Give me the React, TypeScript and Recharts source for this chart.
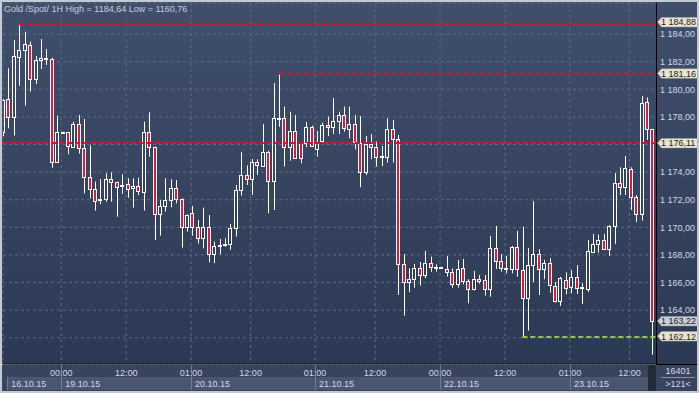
import React from 'react';
import { ComposedChart, Bar, XAxis, YAxis, CartesianGrid, ReferenceLine } from 'recharts';

// ---- Data (hourly candles, index 0 = 16.10.15 late session) ----
const opens = [
  1176.88, 1179.27, 1178.02, 1182.36, 1182.82, 1183.18, 1180.72, 1182.12, 1182.19, 1182.19,
  1174.71, 1176.83, 1176.88, 1175.84, 1177.46, 1175.72, 1173.62, 1172.75, 1171.98, 1172.03,
  1173.48, 1173.26, 1173.0, 1173.12, 1172.83, 1172.97, 1172.58, 1176.88, 1175.8, 1170.99,
  1171.57, 1171.96, 1172.83, 1172.03, 1170.05, 1171.02, 1170.05, 1169.21, 1170.03, 1168.05,
  1168.7, 1168.75, 1168.77, 1169.93, 1172.71, 1173.77, 1173.48, 1174.71, 1174.47, 1175.43,
  1173.33, 1177.88, 1177.9, 1175.84, 1176.98, 1176.16, 1176.09, 1177.24, 1175.65, 1176.28,
  1177.39, 1177.24, 1177.68, 1178.14, 1177.15, 1177.46, 1176.13, 1174.03, 1176.01, 1175.8,
  1175.1, 1175.07, 1177.1, 1176.38, 1167.35, 1166.02, 1166.26, 1167.03, 1166.53, 1167.4,
  1167.13, 1167.1, 1166.96, 1166.74, 1165.87, 1167.03, 1166.09, 1165.56, 1166.24, 1166.16,
  1165.51, 1168.48, 1167.59, 1167.0, 1166.96, 1168.55, 1166.89, 1164.86, 1167.25, 1168.07,
  1167.01, 1167.4, 1165.75, 1164.69, 1166.16, 1165.71, 1166.38, 1165.61, 1165.56, 1168.24,
  1168.77, 1169.08, 1168.46, 1170.1, 1173.19, 1172.95, 1174.2, 1172.17, 1170.94, 1179.05,
  1177.1,
];
const highs = [
  1179.3, 1181.52, 1183.57, 1184.64, 1184.17, 1183.45, 1182.41, 1183.64, 1182.91, 1182.29,
  1178.09, 1176.92, 1176.92, 1177.65, 1178.14, 1177.85, 1175.97, 1173.31, 1173.5, 1173.91,
  1173.99, 1173.31, 1173.84, 1173.55, 1173.55, 1173.6, 1177.65, 1178.33, 1175.85, 1171.98,
  1173.55, 1173.48, 1173.43, 1172.1, 1170.94, 1171.55, 1170.53, 1171.43, 1170.89, 1168.97,
  1169.16, 1169.21, 1170.24, 1173.07, 1175.43, 1174.49, 1174.95, 1174.93, 1177.49, 1175.55,
  1180.45, 1181.15, 1178.74, 1178.38, 1178.14, 1176.18, 1177.63, 1177.37, 1176.98, 1177.58,
  1178.02, 1179.37, 1178.38, 1178.74, 1178.74, 1178.14, 1178.06, 1176.62, 1176.76, 1176.21,
  1175.89, 1177.9, 1177.78, 1176.69, 1168.07, 1167.03, 1167.35, 1167.49, 1168.29, 1167.88,
  1167.32, 1167.15, 1167.93, 1167.03, 1167.64, 1167.71, 1166.24, 1166.84, 1166.55, 1166.55,
  1169.37, 1170.1, 1168.07, 1167.93, 1168.65, 1169.74, 1170.05, 1168.51, 1171.91, 1168.41,
  1167.64, 1167.76, 1166.04, 1166.41, 1166.74, 1166.91, 1167.27, 1165.97, 1169.08, 1169.52,
  1169.47, 1169.52, 1170.17, 1173.94, 1174.35, 1175.17, 1174.35, 1172.34, 1179.51, 1179.41,
  1177.12,
];
const lows = [
  1176.6, 1177.17, 1176.64, 1180.26, 1178.81, 1179.83, 1180.38, 1181.47, 1181.76, 1174.32,
  1174.7, 1176.8, 1175.29, 1175.77, 1175.34, 1172.46, 1172.1, 1171.21, 1171.67, 1171.86,
  1171.86, 1170.77, 1172.42, 1172.15, 1171.43, 1172.34, 1171.21, 1175.12, 1169.08, 1169.4,
  1171.14, 1171.45, 1171.74, 1168.53, 1169.69, 1169.4, 1168.82, 1168.48, 1167.47, 1167.4,
  1168.05, 1168.6, 1168.36, 1169.33, 1172.3, 1173.07, 1172.34, 1173.79, 1174.4, 1171.02,
  1171.26, 1177.29, 1174.4, 1174.83, 1174.95, 1174.64, 1175.8, 1175.84, 1175.12, 1176.16,
  1176.62, 1176.76, 1176.76, 1176.93, 1176.45, 1175.65, 1172.9, 1173.79, 1174.93, 1174.4,
  1174.44, 1174.69, 1174.69, 1165.1, 1163.61, 1165.3, 1165.63, 1165.78, 1166.31, 1166.79,
  1166.79, 1167.08, 1166.43, 1165.63, 1165.63, 1165.87, 1164.5, 1165.42, 1165.92, 1165.05,
  1164.98, 1166.98, 1166.79, 1166.67, 1166.67, 1166.43, 1162.13, 1162.52, 1166.04, 1165.1,
  1166.24, 1165.27, 1164.55, 1164.31, 1165.15, 1165.22, 1165.17, 1164.45, 1165.32, 1168.17,
  1168.17, 1168.36, 1167.93, 1168.8, 1172.34, 1172.34, 1171.26, 1170.39, 1170.48, 1176.33,
  1160.76,
];
const closes = [
  1179.22, 1178.02, 1182.38, 1182.84, 1183.25, 1180.72, 1182.09, 1182.26, 1182.24, 1174.71,
  1176.88, 1176.88, 1175.89, 1177.49, 1175.72, 1173.62, 1172.75, 1171.93, 1172.05, 1173.48,
  1173.26, 1172.95, 1173.05, 1172.78, 1172.97, 1172.63, 1176.88, 1175.8, 1170.99, 1171.57,
  1171.96, 1172.83, 1172.03, 1170.05, 1170.89, 1170.05, 1169.21, 1170.03, 1168.05, 1168.65,
  1168.75, 1168.79, 1169.93, 1172.71, 1173.77, 1173.48, 1174.73, 1174.49, 1175.43, 1173.33,
  1177.9, 1177.92, 1175.84, 1176.98, 1175.0, 1175.0, 1177.24, 1175.92, 1176.21, 1177.39,
  1177.24, 1177.68, 1178.14, 1177.17, 1177.46, 1176.16, 1174.03, 1176.01, 1175.8, 1175.12,
  1175.14, 1177.1, 1176.38, 1167.35, 1166.02, 1166.26, 1167.03, 1166.53, 1167.4, 1167.13,
  1167.16, 1167.12, 1166.74, 1165.87, 1166.96, 1166.09, 1165.56, 1166.24, 1166.09, 1165.51,
  1168.48, 1167.59, 1167.03, 1167.03, 1168.55, 1166.96, 1164.86, 1167.25, 1168.07, 1166.96,
  1167.4, 1165.8, 1164.69, 1166.33, 1165.63, 1166.38, 1165.58, 1165.65, 1168.26, 1168.77,
  1169.08, 1168.46, 1170.1, 1173.19, 1172.9, 1174.27, 1172.17, 1170.94, 1178.98, 1177.1,
  1163.22,
];

const priceTicks = [1164, 1166, 1168, 1170, 1172, 1174, 1178, 1180, 1182, 1184];
const gridPrices = [1162, 1164, 1166, 1168, 1170, 1172, 1174, 1176, 1178, 1180, 1182, 1184];
const tagPrices = [1184.88, 1181.16, 1176.11, 1163.22, 1162.12];
const tagTexts = ['1 184,88', '1 181,16', '1 176,11', '1 163,22', '1 162,12'];
const tagFills = ['#e8e4cf', '#e8e4cf', '#e8e4cf', '#c9ced6', '#e8e4cf'];

const levelPrices = [1184.72, 1181.12, 1176.11, 1162.06];
const levelStarts = [3, 51, 0.04, 96];
const levelColors = ['#e0121e', '#e0121e', '#e0121e', '#93c83e'];

const timeTicks = [10.8, 22.8, 34.8, 45.8, 57.7, 68.8, 80.8, 92.8, 104.8, 115.8];
const timeLabels = ['00:00', '12:00', '01:00', '12:00', '01:00', '12:00', '00:00', '12:00', '01:00', '12:00'];
const dateTicks = [0.83, 10.8, 34.8, 57.7, 80.8, 104.8];
const dateLabels = ['16.10.15', '19.10.15', '20.10.15', '21.10.15', '22.10.15', '23.10.15'];

const data = opens.map((o, i) => ({ i, o, h: highs[i], l: lows[i], c: closes[i] }));

const X_DOMAIN: [number, number] = [0.04, 120.8];
const Y_DOMAIN: [number, number] = [1160.1, 1186.25];

const RED = '#e0183c';
const TXT = '#d3d9e4';
const FONT = '"Liberation Sans", Arial, sans-serif';

const fmt = (v: number) => {
  const s = v.toFixed(2).replace('.', ',');
  const [ip, dp] = s.split(',');
  const withSp = ip.replace(/\B(?=(\d{3})+(?!\d))/g, ' ');
  return withSp + ',' + dp;
};

function Candle(p: any) {
  const { x, y, width, height, payload } = p;
  if (x == null || payload == null || height == null) return null;
  const top = Math.min(y, y + height);
  const span = Math.abs(height);
  const k = span / (payload.h - payload.l);
  const py = (v: number) => top + (payload.h - v) * k;
  const cx = Math.round(x + width / 2);
  const bTop = Math.round(py(Math.max(payload.o, payload.c)));
  let bBot = Math.round(py(Math.min(payload.o, payload.c)));
  if (bBot - bTop < 1) bBot = bTop + 1;
  const bull = payload.c >= payload.o;
  const wx = cx + 0.5;
  return (
    <g>
      <line x1={wx} x2={wx} y1={top} y2={bTop} stroke="#ffffff" strokeWidth={1} />
      <line x1={wx} x2={wx} y1={bBot + 1} y2={top + span} stroke="#ffffff" strokeWidth={1} />
      <rect x={cx - 1.5} y={bTop + 0.5} width={3} height={bBot - bTop} fill={bull ? 'none' : RED} stroke="#ffffff" strokeWidth={1} />
    </g>
  );
}

function XTick(p: any) {
  const { x, y, payload } = p;
  const v = payload.value;
  const ti = timeTicks.indexOf(v);
  const di = dateTicks.indexOf(v);
  const sx = Math.round(x) + 0.5;
  return (
    <g>
      {di >= 0 && <line x1={sx} x2={sx} y1={di === 0 ? y + 13 : y + 1} y2={y + 26} stroke="#6f7b93" strokeWidth={1} />}
      {ti >= 0 && (
        <text x={x} y={y + 11.5} textAnchor="middle" fill={TXT} fontSize={9} fontFamily={FONT}>{timeLabels[ti]}</text>
      )}
      {di >= 0 && (
        <text x={x + 4} y={y + 23.3} textAnchor="start" fill={TXT} fontSize={9} fontFamily={FONT}>{dateLabels[di]}</text>
      )}
    </g>
  );
}

function YTick(p: any) {
  const { x, y, payload } = p;
  const v = payload.value;
  const ti = tagPrices.indexOf(v);
  if (ti >= 0) {
    const x0 = x + 1;
    return (
      <g>
        <polygon
          points={`${x0},${y} ${x0 + 4},${y - 4.5} ${x0 + 40},${y - 4.5} ${x0 + 40},${y + 5} ${x0 + 4},${y + 5}`}
          fill={tagFills[ti]}
          stroke="#9aa0a8"
          strokeWidth={0.5}
        />
        <text x={x0 + 3.5} y={y + 3.4} fill="#1c1c1c" fontSize={9} fontFamily={FONT}>{tagTexts[ti]}</text>
      </g>
    );
  }
  return (
    <text x={x + 3.5} y={y + 3.3} fill={TXT} fontSize={9} fontFamily={FONT}>{fmt(v)}</text>
  );
}

export default function App() {
  return (
    <div style={{ position: 'absolute', left: 0, top: 0, width: 699, height: 393, background: '#c4cad3', overflow: 'hidden' }}>
      <div style={{ position: 'absolute', left: 2, top: 2, width: 695, height: 362, background: 'linear-gradient(#404f6c, #2c3954)' }} />
      <div style={{ position: 'absolute', left: 2, top: 365, width: 695, height: 26, background: '#38445d' }} />
      <div style={{ position: 'absolute', left: 7, top: 377, width: 641, height: 13, background: '#4a566f' }} />
      <div style={{ position: 'absolute', left: 648, top: 365, width: 8, height: 26, background: '#232b3b' }} />
      <div style={{ position: 'absolute', left: 656, top: 364, width: 41, height: 1, background: '#000' }} />
      <div style={{ position: 'absolute', left: 661, top: 377, width: 34, height: 1, background: '#8a93a5' }} />
      <div style={{ position: 'absolute', left: 0, top: 0 }}>
        <ComposedChart width={699} height={393} data={data} margin={{ top: 3, right: 0, left: 3, bottom: 0 }}>
          <CartesianGrid xAxisId="g" yAxisId="g" stroke="#5b6a86" strokeDasharray="3 3" />
          <XAxis xAxisId="g" type="number" dataKey="i" domain={X_DOMAIN} allowDataOverflow ticks={timeTicks} interval={0} hide />
          <YAxis yAxisId="g" type="number" domain={Y_DOMAIN} allowDataOverflow ticks={gridPrices} interval={0} hide />
          <XAxis
            type="number"
            dataKey="i"
            domain={X_DOMAIN}
            allowDataOverflow
            ticks={[0.83, ...timeTicks]}
            interval={0}
            tickSize={0}
            tickMargin={0}
            tickLine={false}
            height={29}
            axisLine={{ stroke: '#000000' }}
            tick={(p: any) => <XTick {...p} />}
          />
          <YAxis
            orientation="right"
            type="number"
            domain={Y_DOMAIN}
            allowDataOverflow
            ticks={[...priceTicks, ...tagPrices]}
            interval={0}
            width={42.5}
            tickSize={0}
            tickMargin={0}
            tickLine={false}
            axisLine={{ stroke: '#000000' }}
            tick={(p: any) => <YTick {...p} />}
          />
          <Bar
            dataKey={(d: any) => [d.l, d.h]}
            barSize={4}
            isAnimationActive={false}
            shape={(p: any) => <Candle {...p} />}
          />
          {levelPrices.map((v, k) => (
            <ReferenceLine
              key={k}
              segment={[{ x: levelStarts[k], y: v }, { x: 120.8, y: v }]}
              stroke={levelColors[k]}
              strokeWidth={2}
              strokeDasharray="5 3"
              ifOverflow="visible"
            />
          ))}
          <text x={4} y={11.5} fill="#c9d1de" fontSize={9} fontFamily={FONT}>Gold /Spot/ 1H High = 1184,64 Low = 1160,76</text>
          <text x={678} y={373.5} textAnchor="middle" fill={TXT} fontSize={9} fontFamily={FONT}>16401</text>
          <text x={678} y={387} textAnchor="middle" fill={TXT} fontSize={9} fontFamily={FONT}>&gt;121&lt;</text>
        </ComposedChart>
      </div>
    </div>
  );
}
